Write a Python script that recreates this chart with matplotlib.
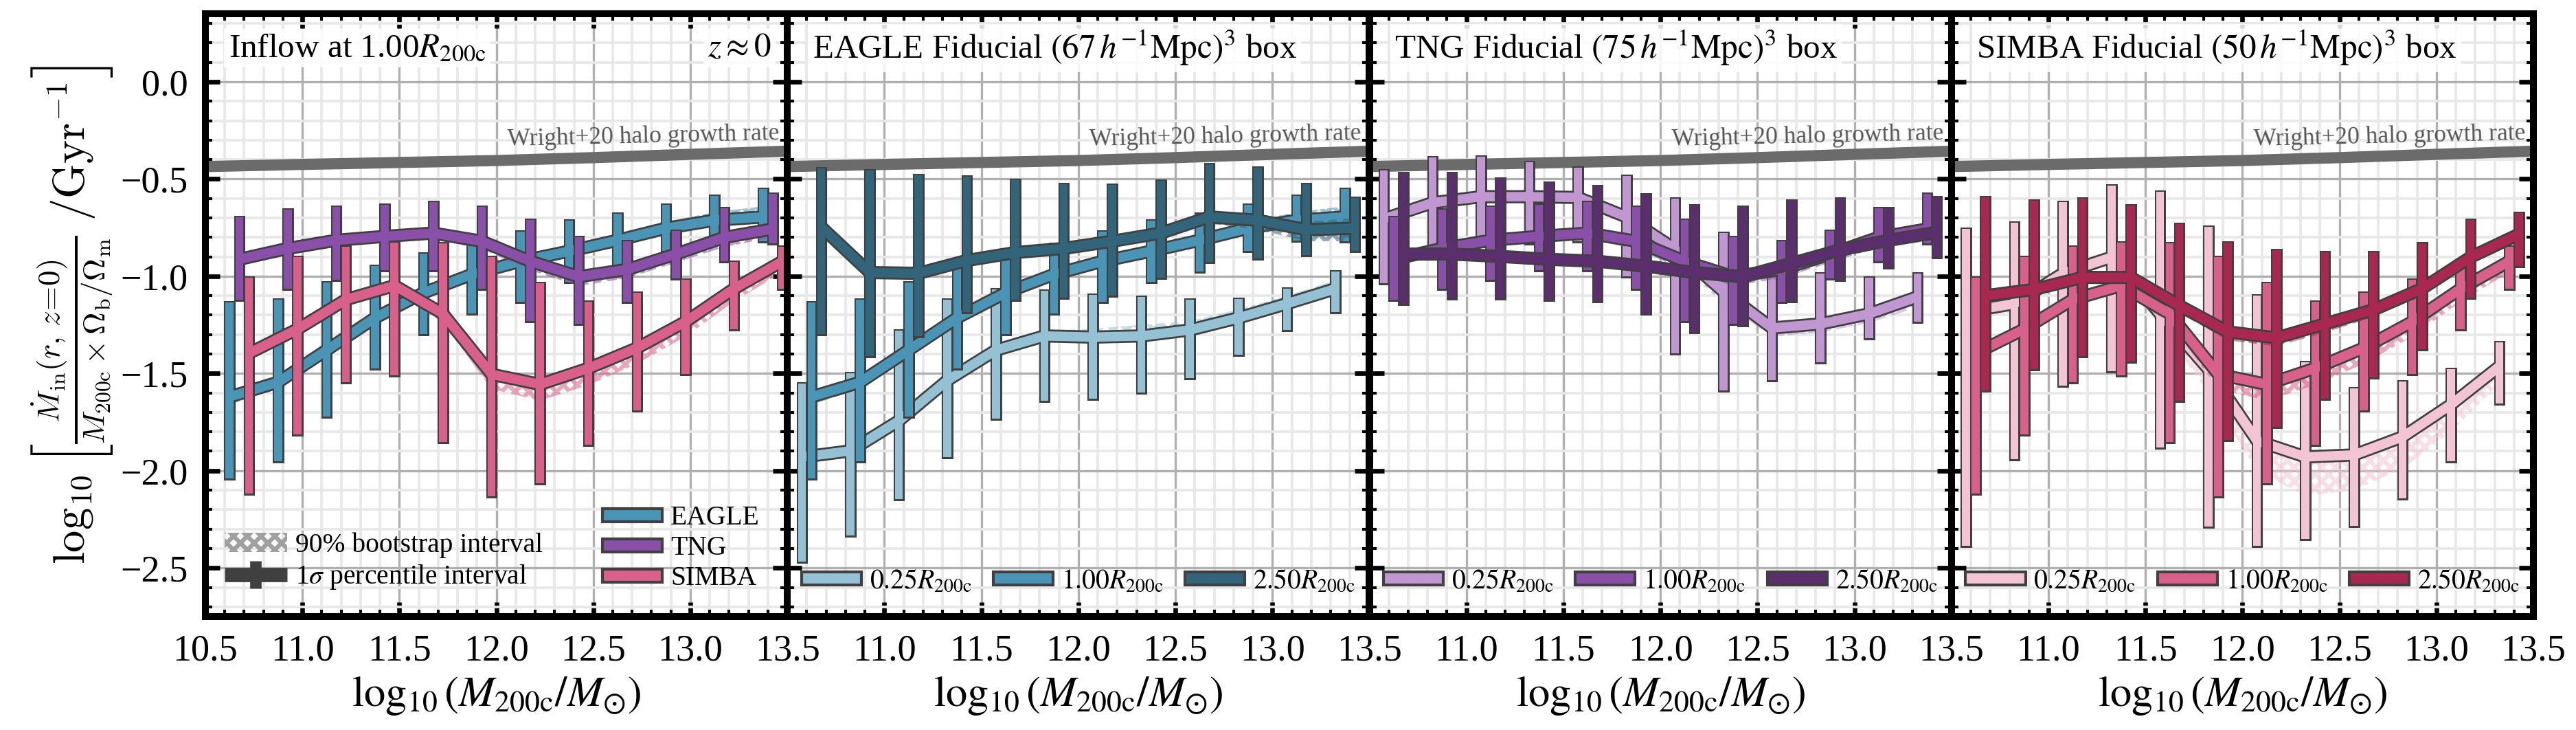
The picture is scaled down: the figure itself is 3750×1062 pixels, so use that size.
import numpy as np
import matplotlib.pyplot as plt
from matplotlib.lines import Line2D
from matplotlib.patches import Patch
from matplotlib.legend_handler import HandlerTuple
from matplotlib.ticker import MultipleLocator

plt.rcParams['font.family'] = ['Liberation Serif', 'DejaVu Serif']
plt.rcParams['mathtext.fontset'] = 'stix'
plt.rcParams['hatch.linewidth'] = 1.5

# halo mass bin centres, log10(M200c/Msun)
mass = [10.625, 10.875, 11.125, 11.375, 11.625, 11.875,
        12.125, 12.375, 12.625, 12.875, 13.125, 13.375]

# Wright+20 halo growth rate
wright_mass = [10.5, 11.0, 11.5, 12.0, 12.5, 13.0, 13.5]
wright_rate = [-0.436, -0.425, -0.415, -0.405, -0.39, -0.373, -0.357]

# ---- EAGLE ----
eagle_025_med = [-1.93, -1.898, -1.743, -1.535, -1.38, -1.307, -1.313, -1.307, -1.276, -1.214, -1.141, -1.064]
eagle_025_hi = [-1.552, -1.50, -1.28, -1.12, -1.068, -1.073, -1.095, -1.106, -1.12, -1.116, -1.064, -0.975]
eagle_025_lo = [-2.469, -2.334, -2.147, -1.93, -1.732, -1.639, -1.629, -1.598, -1.525, -1.405, -1.276, -1.183]
eagle_025_bhi = [-1.90, -1.87, -1.72, -1.51, -1.35, -1.28, -1.27, -1.25, -1.23, -1.17, -1.10, -1.02]
eagle_025_blo = [-1.96, -1.92, -1.77, -1.56, -1.40, -1.32, -1.32, -1.31, -1.28, -1.22, -1.15, -1.08]

eagle_100_med = [-1.62, -1.545, -1.38, -1.214, -1.085, -0.99, -0.923, -0.871, -0.815, -0.753, -0.712, -0.695]
eagle_100_hi = [-1.135, -1.12, -1.033, -0.948, -0.882, -0.836, -0.772, -0.714, -0.678, -0.633, -0.587, -0.55]
eagle_100_lo = [-2.04, -1.95, -1.72, -1.473, -1.297, -1.193, -1.13, -1.027, -0.975, -0.871, -0.815, -0.82]
eagle_100_bhi = [-1.59, -1.52, -1.35, -1.19, -1.06, -0.96, -0.89, -0.84, -0.78, -0.72, -0.67, -0.64]
eagle_100_blo = [-1.66, -1.58, -1.41, -1.24, -1.11, -1.01, -0.94, -0.89, -0.83, -0.77, -0.73, -0.72]

eagle_250_med = [-0.747, -0.981, -0.985, -0.919, -0.878, -0.857, -0.82, -0.778, -0.695, -0.712, -0.761, -0.753]
eagle_250_hi = [-0.446, -0.456, -0.481, -0.488, -0.504, -0.525, -0.529, -0.508, -0.425, -0.442, -0.525, -0.598]
eagle_250_lo = [-1.297, -1.411, -1.307, -1.183, -1.12, -1.11, -1.10, -1.006, -0.927, -0.909, -0.892, -0.871]
eagle_250_bhi = [-0.72, -0.96, -0.96, -0.90, -0.86, -0.84, -0.80, -0.75, -0.67, -0.69, -0.72, -0.70]
eagle_250_blo = [-0.79, -1.01, -1.01, -0.94, -0.90, -0.88, -0.85, -0.80, -0.73, -0.76, -0.82, -0.82]

# ---- TNG ----
tng_025_med = [-0.705, -0.622, -0.591, -0.591, -0.595, -0.695, -0.861, -1.079, -1.266, -1.245, -1.193, -1.106]
tng_025_hi = [-0.456, -0.388, -0.384, -0.415, -0.442, -0.483, -0.60, -0.778, -0.981, -0.985, -1.006, -0.985]
tng_025_lo = [-1.037, -0.851, -0.799, -0.83, -0.82, -1.002, -1.396, -1.587, -1.535, -1.442, -1.317, -1.234]
tng_025_bhi = [-0.68, -0.60, -0.57, -0.57, -0.57, -0.67, -0.84, -1.05, -1.24, -1.22, -1.17, -1.09]
tng_025_blo = [-0.73, -0.65, -0.62, -0.62, -0.62, -0.73, -0.92, -1.14, -1.31, -1.29, -1.24, -1.16]

tng_100_med = [-0.913, -0.857, -0.815, -0.795, -0.778, -0.82, -0.923, -1.002, -0.965, -0.886, -0.80, -0.757]
tng_100_hi = [-0.695, -0.658, -0.645, -0.633, -0.618, -0.643, -0.712, -0.80, -0.82, -0.768, -0.65, -0.577]
tng_100_lo = [-1.12, -1.064, -1.017, -0.969, -0.969, -1.064, -1.23, -1.245, -1.13, -1.012, -0.923, -0.83]
tng_100_bhi = [-0.89, -0.84, -0.80, -0.78, -0.76, -0.80, -0.90, -0.98, -0.94, -0.87, -0.79, -0.74]
tng_100_blo = [-0.94, -0.88, -0.84, -0.82, -0.81, -0.86, -0.97, -1.05, -1.01, -0.93, -0.85, -0.80]

tng_250_med = [-0.886, -0.886, -0.898, -0.913, -0.923, -0.948, -0.981, -1.002, -0.934, -0.865, -0.815, -0.774]
tng_250_hi = [-0.471, -0.471, -0.498, -0.519, -0.539, -0.581, -0.637, -0.643, -0.612, -0.60, -0.649, -0.595]
tng_250_lo = [-1.141, -1.114, -1.114, -1.12, -1.127, -1.193, -1.286, -1.251, -1.127, -1.017, -0.954, -0.902]
tng_250_bhi = [-0.87, -0.87, -0.88, -0.89, -0.90, -0.93, -0.96, -0.98, -0.91, -0.84, -0.79, -0.75]
tng_250_blo = [-0.91, -0.91, -0.92, -0.93, -0.94, -0.97, -1.01, -1.04, -0.97, -0.90, -0.85, -0.81]

# ---- SIMBA ----
simba_025_med = [-1.183, -1.141, -0.985, -0.902, -1.193, -1.479, -1.846, -1.929, -1.919, -1.826, -1.66, -1.463]
simba_025_hi = [-0.757, -0.726, -0.618, -0.533, -0.566, -0.747, -1.10, -1.442, -1.577, -1.541, -1.479, -1.338]
simba_025_lo = [-2.386, -1.94, -1.562, -1.488, -1.882, -2.288, -2.386, -2.351, -2.282, -2.143, -1.95, -1.654]
simba_025_bhi = [-1.15, -1.11, -0.96, -0.88, -1.16, -1.45, -1.80, -1.91, -1.90, -1.80, -1.64, -1.44]
simba_025_blo = [-1.23, -1.18, -1.02, -0.94, -1.26, -1.60, -2.00, -2.13, -2.10, -1.99, -1.80, -1.55]

simba_100_med = [-1.396, -1.272, -1.12, -1.048, -1.193, -1.504, -1.556, -1.473, -1.369, -1.234, -1.064, -0.923]
simba_100_hi = [-1.006, -0.902, -0.85, -0.826, -0.83, -0.902, -1.037, -1.13, -1.085, -1.017, -0.927, -0.85]
simba_100_lo = [-2.116, -1.815, -1.546, -1.508, -1.853, -2.133, -2.064, -1.867, -1.69, -1.504, -1.272, -1.064]
simba_100_bhi = [-1.37, -1.25, -1.10, -1.03, -1.17, -1.48, -1.53, -1.45, -1.35, -1.21, -1.04, -0.90]
simba_100_blo = [-1.43, -1.30, -1.15, -1.08, -1.24, -1.58, -1.64, -1.56, -1.45, -1.31, -1.13, -0.98]

simba_250_med = [-1.10, -1.068, -1.006, -1.006, -1.151, -1.286, -1.317, -1.245, -1.172, -1.064, -0.902, -0.784]
simba_250_hi = [-0.595, -0.612, -0.602, -0.637, -0.732, -0.826, -0.865, -0.878, -0.878, -0.83, -0.712, -0.674]
simba_250_lo = [-1.587, -1.479, -1.411, -1.438, -1.639, -1.84, -1.774, -1.629, -1.521, -1.376, -1.11, -0.948]
simba_250_bhi = [-1.08, -1.04, -0.98, -0.98, -1.13, -1.26, -1.29, -1.22, -1.14, -1.03, -0.88, -0.76]
simba_250_blo = [-1.13, -1.10, -1.03, -1.03, -1.19, -1.33, -1.36, -1.29, -1.21, -1.10, -0.94, -0.82]

radius_labels = [r'$0.25R_{\rm 200c}$', r'$1.00R_{\rm 200c}$', r'$2.50R_{\rm 200c}$']
sim_names = ['EAGLE', 'TNG', 'SIMBA']
box_titles = [r'EAGLE Fiducial $(67\,h^{-1}{\rm Mpc})^3$ box',
              r'TNG Fiducial $(75\,h^{-1}{\rm Mpc})^3$ box',
              r'SIMBA Fiducial $(50\,h^{-1}{\rm Mpc})^3$ box']
xtick_vals = [10.5, 11.0, 11.5, 12.0, 12.5, 13.0, 13.5]
xtick_text = ['10.5', '11.0', '11.5', '12.0', '12.5', '13.0', '13.5']

colors = {
    'EAGLE': ['#94c1d3', '#4a95b5', '#32647a'],
    'TNG': ['#c197d2', '#8a4fa8', '#5b2e6e'],
    'SIMBA': ['#f3c4d3', '#d8608a', '#a82852'],
}
data = {
    'EAGLE': [(eagle_025_med, eagle_025_lo, eagle_025_hi, eagle_025_blo, eagle_025_bhi),
              (eagle_100_med, eagle_100_lo, eagle_100_hi, eagle_100_blo, eagle_100_bhi),
              (eagle_250_med, eagle_250_lo, eagle_250_hi, eagle_250_blo, eagle_250_bhi)],
    'TNG': [(tng_025_med, tng_025_lo, tng_025_hi, tng_025_blo, tng_025_bhi),
            (tng_100_med, tng_100_lo, tng_100_hi, tng_100_blo, tng_100_bhi),
            (tng_250_med, tng_250_lo, tng_250_hi, tng_250_blo, tng_250_bhi)],
    'SIMBA': [(simba_025_med, simba_025_lo, simba_025_hi, simba_025_blo, simba_025_bhi),
              (simba_100_med, simba_100_lo, simba_100_hi, simba_100_blo, simba_100_bhi),
              (simba_250_med, simba_250_lo, simba_250_hi, simba_250_blo, simba_250_bhi)],
}

EDGE = '#404040'
BAR_W = 0.041  # dex
mass = np.array(mass)


def draw_series(ax, x, series, color, z):
    med, lo, hi, blo, bhi = series
    height = np.array(hi) - np.array(lo)
    ax.fill_between(x, blo, bhi, facecolor='none', edgecolor=color, hatch='xxxxx',
                    lw=0, alpha=0.55, zorder=z)
    # dark outline underneath bars + line, then the colour on top
    ax.bar(x, height, bottom=lo, width=BAR_W, color=EDGE, edgecolor=EDGE, linewidth=1.2, zorder=z + 0.1)
    ax.plot(x, med, color=EDGE, lw=4.6, solid_capstyle='butt', zorder=z + 0.1)
    ax.bar(x, height, bottom=lo, width=BAR_W, color=color, linewidth=0, zorder=z + 0.2)
    ax.plot(x, med, color=color, lw=3.3, solid_capstyle='butt', zorder=z + 0.2)


def leg_patch(color):
    return Patch(facecolor=color, edgecolor=EDGE, lw=1.0)


def style_axis(ax, first):
    ax.set_xlim(10.5, 13.5)
    ax.set_ylim(-2.75, 0.35)
    ax.set_xticks(xtick_vals)
    ax.set_xticklabels(xtick_text if first else [''] + xtick_text[1:])
    ax.xaxis.set_minor_locator(MultipleLocator(0.1))
    ax.yaxis.set_major_locator(MultipleLocator(0.5))
    ax.yaxis.set_minor_locator(MultipleLocator(0.1))
    ax.grid(which='major', color='#b0b0b0', lw=0.8, zorder=0)
    ax.grid(which='minor', color='#e8e8e8', lw=0.9, zorder=0)
    ax.set_axisbelow(True)
    ax.tick_params(which='both', direction='in', top=True, right=True, labelsize=13, pad=6)
    ax.tick_params(which='major', length=5, width=1.6)
    ax.tick_params(which='minor', length=2.5, width=1.0)
    if not first:
        ax.tick_params(labelleft=False)
    for s in ax.spines.values():
        s.set_linewidth(2.4)
    ax.set_xlabel(r'$\log_{10}(M_{\rm 200c}/M_{\odot})$', fontsize=15, labelpad=2)
    ax.plot(wright_mass, wright_rate, color='#6b6b6b', lw=3.9, solid_capstyle='butt', zorder=1)
    ax.text(13.46, -0.283, 'Wright+20 halo growth rate', color='#555555', fontsize=8.5,
            ha='right', va='center', rotation=1.3, zorder=1.5)


fig = plt.figure(figsize=(12.5, 3.54), dpi=300)
left, right, bottom, top = 0.0797, 0.9835, 0.1554, 0.9812
w = (right - left) / 4
axes = [fig.add_axes([left + i * w, bottom, w, top - bottom]) for i in range(4)]

txt_box = dict(facecolor='white', edgecolor='none', alpha=0.85, pad=1.5)

# panel 1: the three simulations at 1.00 R200c
ax = axes[0]
style_axis(ax, True)
for i, sim in enumerate(sim_names):
    draw_series(ax, mass + 0.05 * i, data[sim][1], colors[sim][1], 2 + i)
ax.text(0.04, 0.943, r'Inflow at 1.00$R_{\rm 200c}$', transform=ax.transAxes, fontsize=11.8,
        ha='left', va='center', bbox=txt_box, zorder=40)
ax.text(0.972, 0.943, r'$z \approx 0$', transform=ax.transAxes, fontsize=11.8,
        ha='right', va='center', bbox=txt_box, zorder=40)
ax.set_ylabel(r'$\log_{10}\left[\frac{\dot{M}_{\rm in}(r,\,z\!=\!0)}{M_{\rm 200c}\times\Omega_{\rm b}/\Omega_{\rm m}}\;/{\rm Gyr}^{-1}\right]$',
              fontsize=15.5, math_fontfamily='cm', labelpad=2)

boot_h = Patch(facecolor='none', edgecolor='#a0a0a0', hatch='xxxxx', lw=0)
pct_h = (Line2D([], [], color=EDGE, lw=5, solid_capstyle='butt'),
         Line2D([], [], color=EDGE, ls='none', marker='|', markersize=9.4, mew=4))
leg1 = ax.legend([boot_h, pct_h], ['90% bootstrap interval', r'1$\sigma$ percentile interval'],
                 handler_map={tuple: HandlerTuple(ndivide=1)}, loc='lower left',
                 bbox_to_anchor=(0.0, 0.01), fontsize=9.5, frameon=False, handlelength=2.3,
                 handleheight=0.7, handletextpad=0.3, labelspacing=0.2, borderaxespad=0.3)
leg1.set_zorder(50)
ax.add_artist(leg1)
leg2 = ax.legend([leg_patch(colors[s][1]) for s in sim_names], sim_names, loc='lower right',
                 bbox_to_anchor=(0.985, 0.01), fontsize=9.5, frameon=False, handlelength=2.2,
                 handleheight=0.36, handletextpad=0.3, labelspacing=0.18, borderaxespad=0.3)
leg2.set_zorder(50)

# panels 2-4: each simulation at three radii
for k, sim in enumerate(sim_names):
    ax = axes[k + 1]
    style_axis(ax, False)
    for j in range(3):
        draw_series(ax, mass + 0.05 * (j - 1), data[sim][j], colors[sim][j], 2 + j)
    ax.text(0.043, 0.943, box_titles[k], transform=ax.transAxes, fontsize=11.8,
            ha='left', va='center', bbox=txt_box, zorder=40)
    leg = ax.legend([leg_patch(c) for c in colors[sim]], radius_labels, loc='lower center',
                    bbox_to_anchor=(0.5, 0.005), ncol=3, fontsize=9.5, frameon=False,
                    handlelength=2.2, handleheight=0.36, handletextpad=0.3, columnspacing=0.8,
                    borderaxespad=0.3)
    leg.set_zorder(50)

fig.savefig('out.png', dpi=300)
